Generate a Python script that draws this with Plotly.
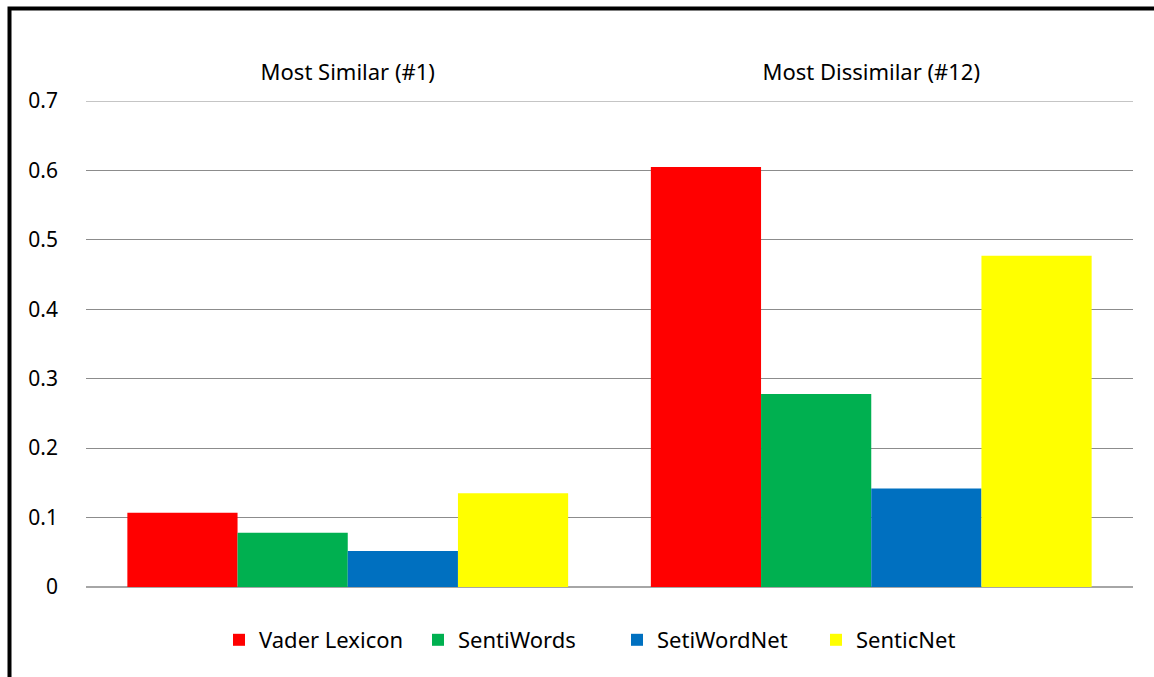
import plotly.graph_objects as go

categories = ["Most Similar (#1)", "Most Dissimilar (#12)"]
series_names = ["Vader Lexicon", "SentiWords", "SetiWordNet", "SenticNet"]
vader = [0.107, 0.605]
sentiwords = [0.078, 0.278]
setiwordnet = [0.052, 0.142]
senticnet = [0.135, 0.477]
colors = ["#FF0000", "#00B050", "#0070C0", "#FFFF00"]
y_ticks = [0, 0.1, 0.2, 0.3, 0.4, 0.5, 0.6, 0.7]
y_tick_labels = ["0", "0.1", "0.2", "0.3", "0.4", "0.5", "0.6", "0.7"]

FONT = "Noto Sans, Open Sans, sans-serif"

fig = go.Figure()
for name, vals, col in zip(series_names, [vader, sentiwords, setiwordnet, senticnet], colors):
    fig.add_trace(go.Bar(x=categories, y=vals, name=name, marker=dict(color=col, line=dict(width=0))))

W, H = 1154, 677
ml, mr, mt, mb = 86, 21, 101, 90
pw, ph = W - ml - mr, H - mt - mb

def px_to_paper_x(px):
    return (px - ml) / pw

def px_to_paper_y(py):
    return (H - mb - py) / ph

fig.update_layout(
    width=W, height=H,
    margin=dict(l=ml, r=mr, t=mt, b=mb, pad=0),
    paper_bgcolor="white", plot_bgcolor="white",
    barmode="group", bargap=0.158, bargroupgap=0,
    font=dict(family=FONT, size=20, color="black"),
    xaxis=dict(side="top", showline=False, ticks="", showgrid=False,
               tickfont=dict(size=22), ticklabelstandoff=16),
    yaxis=dict(range=[0, 0.7], tickvals=y_ticks, ticktext=y_tick_labels,
               showgrid=True, gridcolor="#8c8c8c", gridwidth=1,
               zeroline=True, zerolinecolor="#a6a6a6", zerolinewidth=2,
               showline=False, ticks="", tickfont=dict(size=21), ticklabelstandoff=27),
    legend=dict(orientation="h", x=px_to_paper_x(617), xanchor="center",
                y=px_to_paper_y(640), yanchor="middle",
                font=dict(size=22), itemwidth=30, traceorder="normal",
                entrywidth=154, entrywidthmode="pixels"),
    showlegend=True,
    shapes=[
        dict(type="line", xref="paper", yref="y", x0=0, x1=1, y0=y_ticks[-1], y1=y_ticks[-1],
             line=dict(color="#8c8c8c", width=1), layer="below"),
        dict(type="rect", xref="paper", yref="paper",
             x0=px_to_paper_x(9.5), x1=px_to_paper_x(1170),
             y0=px_to_paper_y(700), y1=px_to_paper_y(8.5),
             line=dict(color="black", width=4), fillcolor="rgba(0,0,0,0)", layer="above"),
    ],
)

fig.write_html("out.html")
